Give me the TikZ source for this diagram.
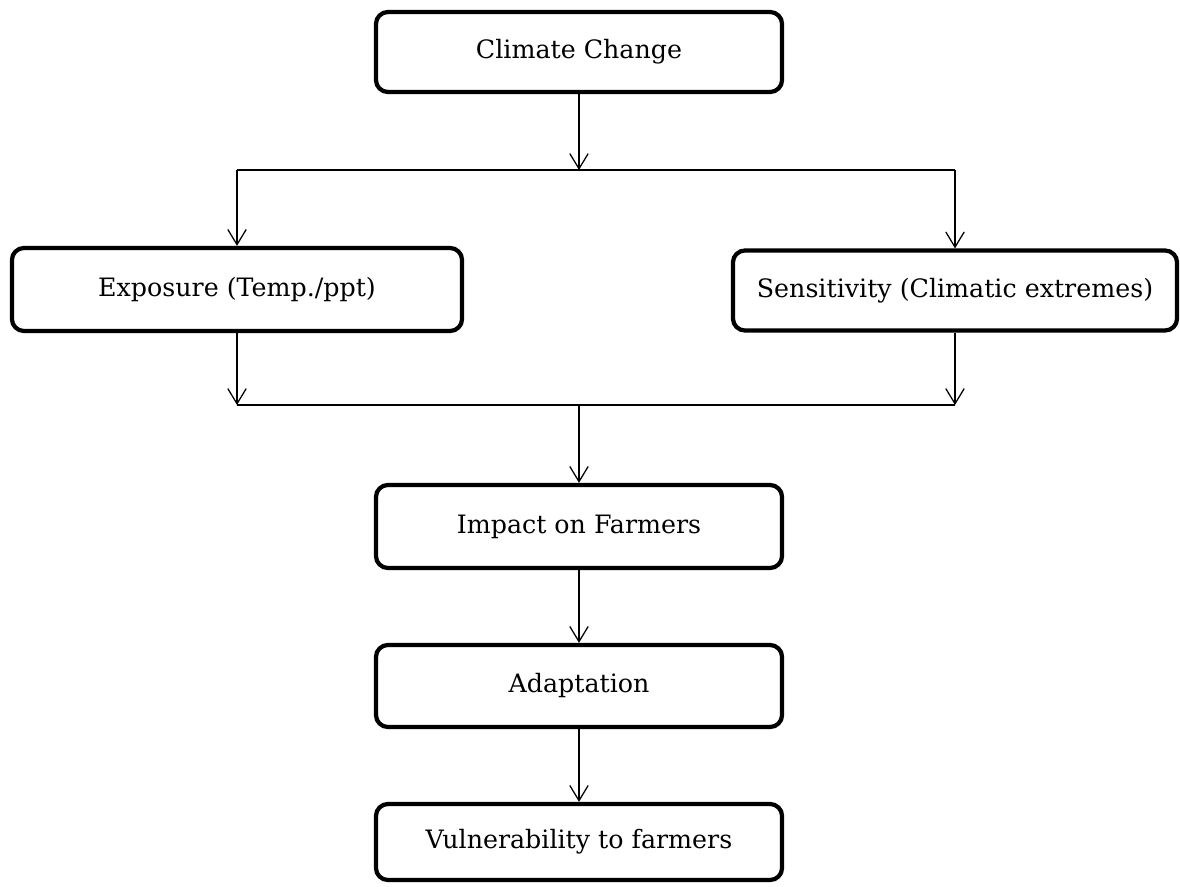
\documentclass[tikz,border=0pt]{standalone}
\usepackage{fontspec}
\setmainfont{DejaVu Serif}
\usetikzlibrary{arrows.meta}
\begin{document}
\begin{tikzpicture}[x=0.025cm,y=-0.025cm,>={Straight Barb[length=3.8mm,width=4.6mm]},font=\fontsize{18}{22}\selectfont,
    hop/.style={draw,line width=3pt,rounded corners=3mm,minimum height=2cm,inner sep=0pt},
    muiten/.style={->,line width=0.9pt}]
    \useasboundingbox (0,0) rectangle (1180,887);
    \node[hop,minimum width=10.15cm] (cc) at (579,52) {Climate Change};
    \node[hop,minimum width=11.25cm,minimum height=2.075cm] (exp) at (237,289.5) {Exposure (Temp./ppt)};
    \node[hop,minimum width=11.1cm] (sen) at (955,290.5) {Sensitivity (Climatic extremes)};
    \node[hop,minimum width=10.15cm,minimum height=2.075cm] (imp) at (579,526.5) {Impact on Farmers};
    \node[hop,minimum width=10.15cm,minimum height=2.05cm] (ada) at (579,686) {Adaptation};
    \node[hop,minimum width=10.15cm,minimum height=1.9cm] (vul) at (579,842) {Vulnerability to farmers};
    %===========================================
    \coordinate (tach) at (579,170);
    \coordinate (gop) at (579,405);
    \foreach \n/\s in {exp/L,sen/R}{
        \coordinate (tach\s) at (\n.north |- tach);
        \coordinate (gop\s) at (\n.south |- gop);
        \draw[muiten] (tach\s) -- (\n);
        \draw[muiten] (\n) -- (gop\s);
    }
    \draw[line width=0.9pt] (tachL) -- (tachR) (gopL) -- (gopR);
    \draw[muiten] (cc) -- (tach);
    \draw[muiten] (gop) -- (imp);
    \draw[muiten] (imp) -- (ada);
    \draw[muiten] (ada) -- (vul);
\end{tikzpicture}
\end{document}
